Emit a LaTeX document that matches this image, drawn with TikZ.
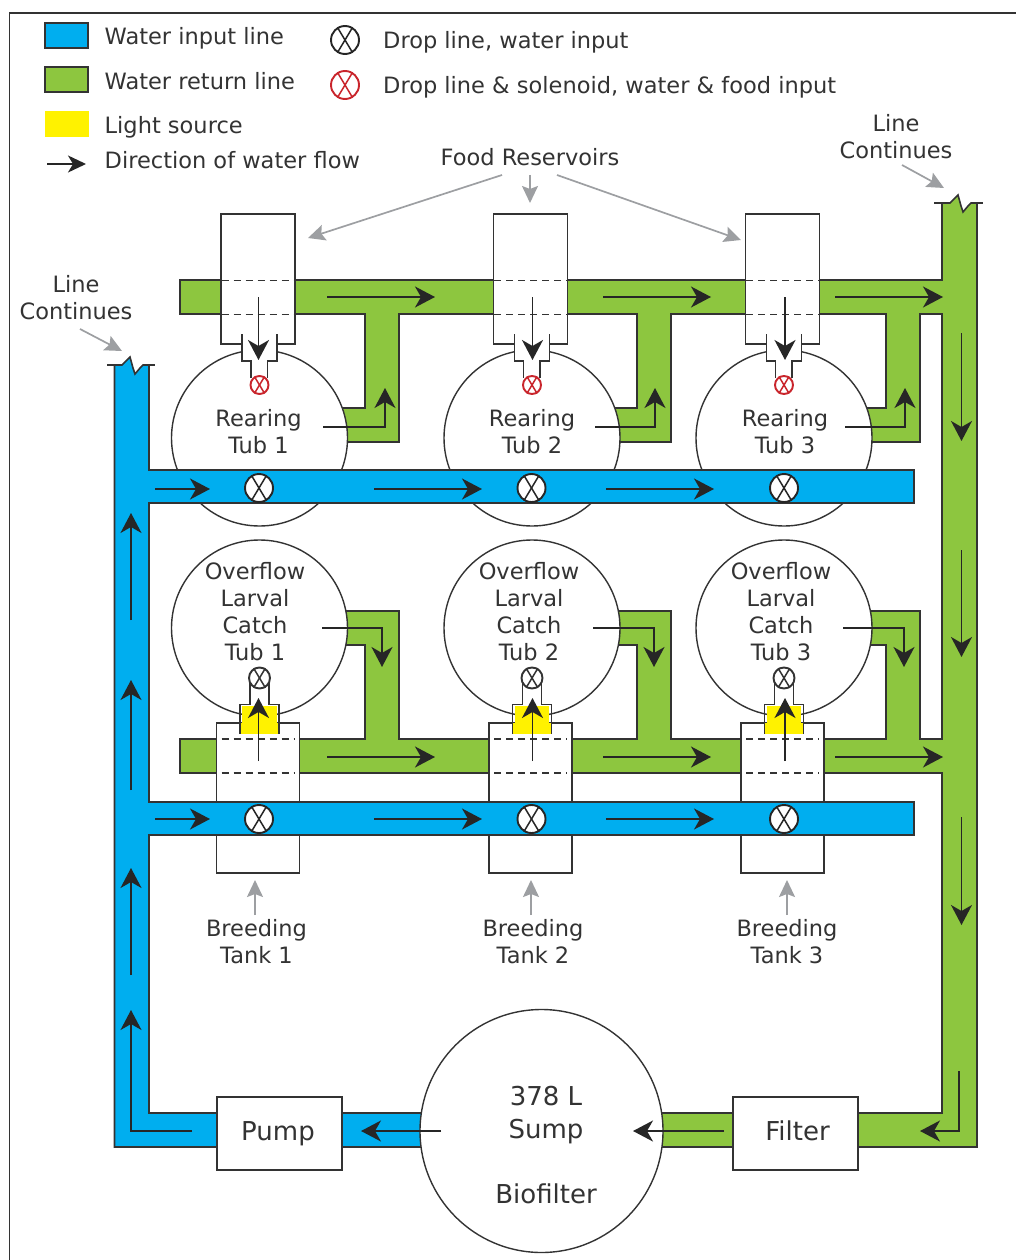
\documentclass[tikz,border=0pt]{standalone}
\usepackage{fontspec}
\setmainfont{DejaVu Sans}
\usepackage{xcolor}
\usetikzlibrary{arrows.meta}

\definecolor{waterblue}{HTML}{00AEEF}
\definecolor{watergreen}{HTML}{8DC63F}
\definecolor{lampyellow}{HTML}{FFF200}
\definecolor{inkgray}{HTML}{333333}
\definecolor{leadgray}{HTML}{9D9FA2}
\definecolor{valvered}{HTML}{C9252C}

% valve: name, position, size, colour
\newcommand{\valve}[4]{
    \node[circle, draw=#4, fill=white, line width=1.9pt, minimum size=#3pt, inner sep=0pt] (#1) at (#2) {};
    \draw[#4, line width=1.5pt] (#1.121) -- (#1.-59);
    \draw[#4, line width=1.5pt] (#1.59) -- (#1.-121);
}

\begin{document}
\begin{tikzpicture}[x=1pt, y=-1pt]

\tikzset{
    pipeline/.style={draw=inkgray, line width=1.6pt, line join=miter},
    tubcircle/.style={circle, draw=inkgray, line width=1.4pt, fill=white, inner sep=0pt},
    unitbox/.style={rectangle, draw=inkgray, line width=1.6pt, fill=white, inner sep=0pt},
    flow/.style={draw=black!85, line width=1.8pt, -{Stealth[length=20pt, width=21pt, inset=6pt]}},
    leader/.style={draw=leadgray, line width=1.7pt, -{Stealth[length=17pt, width=16pt, inset=3pt]}, leadgray},
    dashline/.style={inkgray, line width=1.5pt, dash pattern=on 7pt off 5pt},
    lbl/.style={font=\fontsize{22.5}{27}\selectfont, text=inkgray, align=center},
    biglbl/.style={font=\fontsize{26}{33}\selectfont, text=inkgray, align=center}
}

\useasboundingbox (0,0) rectangle (1016,1260);

% frame
\draw[inkgray, line width=1.2pt] (1016,13) -- (9.5,13) -- (9.5,1260);

%====================================================
% LEGEND
%====================================================
\node[unitbox, fill=waterblue, minimum width=43pt, minimum height=25pt] (legblue) at (66.5,35.5) {};
\node[unitbox, fill=watergreen, minimum width=43pt, minimum height=25pt] (leggreen) at (66.5,79.5) {};
\node[rectangle, fill=lampyellow, minimum width=44pt, minimum height=26pt, inner sep=0pt] (legyellow) at (66.5,124) {};
\coordinate (legfrom) at (47,164);
\coordinate (legto) at (86,164);
\draw[flow, -{Stealth[length=18pt, width=17pt, inset=5pt]}] (legfrom) -- (legto);

\node[lbl, anchor=base west, inner sep=0pt] (txtblue) at (104.5,45) {Water input line};
\node[lbl, anchor=base west, inner sep=0pt] (txtgreen) at (104.5,90) {Water return line};
\node[lbl, anchor=base west, inner sep=0pt] (txtyellow) at (104.5,134) {Light source};
\node[lbl, anchor=base west, inner sep=0pt] (txtflow) at (104.5,168.5) {Direction of water flow};

\valve{legvalve}{345,40}{28}{black!85}
\valve{legred}{345,85}{28}{valvered}
\node[lbl, anchor=base west, inner sep=0pt] (txtdrop) at (383,49) {Drop line, water input};
\node[lbl, anchor=base west, inner sep=0pt] (txtsole) at (383,94) {Drop line \& solenoid, water \& food input};

%====================================================
% GREEN RETURN LINE
%====================================================
\draw[pipeline, fill=watergreen]
    (180,280) -- (942,280) -- (942,203) -- (950,203) -- (958,195) -- (961,206) -- (963,212)
    -- (968,206) -- (971,203) -- (977,203) -- (977,1147) -- (640,1147) -- (640,1113)
    -- (942,1113) -- (942,773) -- (180,773) -- (180,739)
    % lower branches
    -- (365,739) -- (365,645) -- (330,645) -- (330,611) -- (399,611) -- (399,739)
    -- (637,739) -- (637,645) -- (602,645) -- (602,611) -- (671,611) -- (671,739)
    -- (886,739) -- (886,645) -- (852,645) -- (852,611) -- (920,611) -- (920,739)
    -- (942,739) -- (942,314)
    % upper branches
    -- (920,314) -- (920,442) -- (852,442) -- (852,408) -- (886,408) -- (886,314)
    -- (671,314) -- (671,442) -- (602,442) -- (602,408) -- (637,408) -- (637,314)
    -- (399,314) -- (399,442) -- (330,442) -- (330,408) -- (365,408) -- (365,314)
    -- (180,314) -- cycle;
\draw[inkgray, line width=1.6pt] (934,203) -- (942,203);
\draw[inkgray, line width=1.6pt] (977,203) -- (983,203);

%====================================================
% TUBS, RESERVOIRS, TANKS
%====================================================
\foreach \cx/\n in {259.5/1, 532/2, 784/3}{
    \begin{scope}[xshift=\cx pt]
        % rearing tub and food reservoir
        \node[tubcircle, minimum size=176pt] (rear\n) at (0,438) {};
        \node[unitbox, minimum width=74pt, minimum height=130pt] (res\n) at (-1.5,279) {};
        \draw[dashline] (-38,280.5) -- (35,280.5);
        \draw[dashline] (-38,314.5) -- (35,314.5);
        \fill[white] (-17,334) rectangle (17.5,361);
        \fill[white] (-8,361) rectangle (8,378);
        \draw[inkgray, line width=1.4pt] (-17.5,334) -- (-17.5,361) -- (-8.5,361) -- (-8.5,378);
        \draw[inkgray, line width=1.4pt] (17.5,334) -- (17.5,361) -- (8,361) -- (8,378);
        \valve{red\n}{0,385}{18}{valvered}

        % larval catch tub and breeding tank
        \node[tubcircle, minimum size=176pt] (catch\n) at (0,628) {};
        \node[unitbox, minimum width=83pt, minimum height=150pt] (tank\n) at (-1.5,798) {};
        \draw[dashline] (-38,739) -- (35,739);
        \draw[dashline] (-38,773) -- (35,773);
        \fill[white] (-9.5,678) rectangle (9.5,706);
        \fill[lampyellow] (-17.5,706) rectangle (17,733.5);
        \draw[inkgray, line width=1.5pt] (-19.5,723) -- (-19.5,704.5) -- (-9.5,704.5) -- (-9.5,678);
        \draw[inkgray, line width=1.5pt] (19.5,723) -- (19.5,704.5) -- (9.5,704.5) -- (9.5,678);
        \fill[lampyellow] (-18.7,723) rectangle (18.7,733.5);
        \draw[inkgray, line width=1.5pt] (-19.5,722) -- (-19.5,734);
        \draw[inkgray, line width=1.5pt] (19.5,722) -- (19.5,734);
        \valve{lamp\n}{0,678}{21}{inkgray}
    \end{scope}
}

%====================================================
% BLUE INPUT LINE
%====================================================
\draw[pipeline, fill=waterblue]
    (114.5,365) -- (122,365) -- (130,357) -- (133,368) -- (135,374) -- (140,368) -- (143,365) -- (149,365)
    -- (149,470) -- (914,470) -- (914,503) -- (149,503)
    -- (149,802) -- (914,802) -- (914,835) -- (149,835)
    -- (149,1113) -- (440,1113) -- (440,1147) -- (114.5,1147) -- cycle;
\draw[inkgray, line width=1.6pt] (107,365) -- (114.5,365);
\draw[inkgray, line width=1.6pt] (149,365) -- (155,365);

% drop line valves
\foreach \cx/\n in {259/1, 531.5/2, 784/3}{
    \valve{top\n}{\cx,488}{28}{black!85}
    \valve{low\n}{\cx,819}{28}{black!85}
}

%====================================================
% PUMP, FILTER, SUMP
%====================================================
\node[tubcircle, minimum size=243pt] (sump) at (541.5,1131) {};
\node[unitbox, minimum width=125pt, minimum height=73pt] (pump) at (279.5,1133.5) {};
\node[unitbox, minimum width=125pt, minimum height=73pt] (filter) at (795.5,1133.5) {};
\node[biglbl, anchor=base] (pumptxt) at (278,1140) {Pump};
\node[biglbl, anchor=base] (filtertxt) at (797.5,1140) {Filter};
\node[biglbl] (sumptxt) at (546,1145) {378 L\\Sump\\[32pt]Biofilter};

%====================================================
% FLOW ARROWS
%====================================================
% along the long runs
\foreach \a/\b in {327/435, 603/711, 835/943}{
    \draw[flow] (\a,297) -- (\b,297);
    \draw[flow] (\a,757) -- (\b,757);
}
\foreach \a/\b in {155/210, 374/482, 606/714}{
    \draw[flow] (\a,489) -- (\b,489);
    \draw[flow] (\a,819) -- (\b,819);
}
% into the tubs and tanks
\foreach \cx in {258.5, 532.5, 785}{
    \draw[flow] (\cx,297) -- (\cx,360);
    \draw[flow] (\cx,761) -- (\cx,698);
}
% out of the tubs
\foreach \a/\b in {323/385, 595/655, 845/905}{
    \draw[flow] (\a,427) -- (\b,427) -- (\b,388);
}
\foreach \a/\b in {322/382, 593/654, 843/904}{
    \draw[flow] (\a,628) -- (\b,628) -- (\b,667);
}
% risers
\foreach \a/\b in {333/441, 550/657, 817/925}{
    \draw[flow] (961.5,\a) -- (961.5,\b);
}
\foreach \a/\b in {975/868, 790/680, 620/513}{
    \draw[flow] (131,\a) -- (131,\b);
}
% bottom run
\draw[flow] (192,1131) -- (131,1131) -- (131,1010);
\draw[flow] (441,1131) -- (361,1131);
\draw[flow] (724,1131) -- (633,1131);
\draw[flow] (959,1071) -- (959,1131) -- (920,1131);

%====================================================
% LABELS
%====================================================
\foreach \x/\n in {258.5/1, 532/2, 785/3}{
    \node[lbl] (reartxt\n) at (\x,432) {Rearing\\Tub \n};
}
\foreach \x/\n in {255/1, 529/2, 781/3}{
    \node[lbl] (catchtxt\n) at (\x,612) {Overflow\\Larval\\Catch\\Tub \n};
}
\foreach \x/\ax/\n in {256.5/255/1, 533/531/2, 787/787/3}{
    \node[lbl] (breedtxt\n) at (\x,942) {Breeding\\Tank \n};
    \coordinate (breedfrom\n) at (\ax,915);
    \coordinate (breedto\n) at (\ax,880);
    \draw[leader] (breedfrom\n) -- (breedto\n);
}

\node[lbl, anchor=base] (food) at (530,166) {Food Reservoirs};
\coordinate (foodl) at (502,175);
\coordinate (foodm) at (530,175);
\coordinate (foodr) at (557,175);
\coordinate (resl) at (308,238);
\coordinate (resm) at (530,203);
\coordinate (resr) at (741,240);
\draw[leader] (foodl) -- (resl);
\draw[leader] (foodm) -- (resm);
\draw[leader] (foodr) -- (resr);

\node[lbl] (contr) at (896,137) {Line\\Continues};
\coordinate (contrfrom) at (902,165);
\coordinate (contrto) at (944,188);
\draw[leader] (contrfrom) -- (contrto);

\node[lbl] (contl) at (76,298) {Line\\Continues};
\coordinate (contlfrom) at (80,329);
\coordinate (contlto) at (122,351);
\draw[leader] (contlfrom) -- (contlto);

\end{tikzpicture}
\end{document}
